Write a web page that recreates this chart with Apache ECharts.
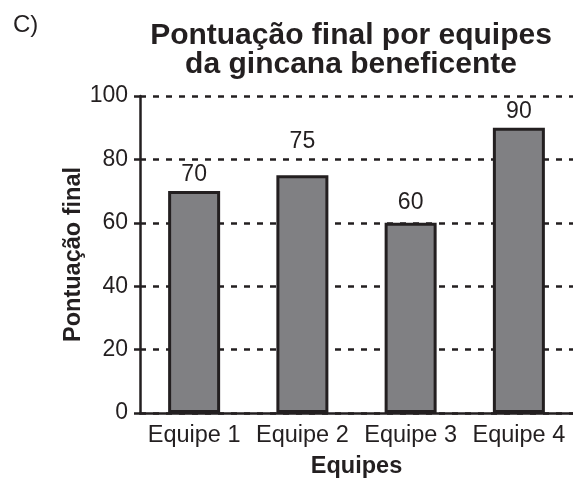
<!DOCTYPE html>
<html>
<head>
<meta charset="utf-8">
<script src="https://cdn.jsdelivr.net/npm/echarts@6/dist/echarts.min.js"></script>
<style>
html,body{margin:0;padding:0;background:#fff;}
#main{width:573px;height:484px;}
</style>
</head>
<body>
<div id="main"></div>
<script>
const categories = ['Equipe 1', 'Equipe 2', 'Equipe 3', 'Equipe 4'];
const scores = [70, 75, 60, 90];
const yTicks = [0, 20, 40, 60, 80, 100];
const titleText = 'Pontuação final por equipes\nda gincana beneficente';
const panelLabel = 'C)';
const yAxisTitle = 'Pontuação final';
const xAxisTitle = 'Equipes';

const FONT = '"Liberation Sans", Arial, Helvetica, sans-serif';
const INK = '#231f20';
const labelGaps = [5, 22, 9, 5];

const chart = echarts.init(document.getElementById('main'), null, {renderer: 'canvas'});
chart.setOption({
  backgroundColor: '#ffffff',
  animation: false,
  title: [
    {
      text: panelLabel, left: 8, top: 8,
      textStyle: {fontFamily: FONT, fontSize: 24, fontWeight: 'normal', color: INK}
    },
    {
      text: titleText, left: 346, top: 16, textAlign: 'center',
      textStyle: {fontFamily: FONT, fontSize: 30, fontWeight: 'bold', color: INK, lineHeight: 29}
    }
  ],
  grid: {left: 140, top: 96, width: 437, height: 317, containLabel: false},
  xAxis: {
    type: 'category',
    data: categories,
    name: xAxisTitle,
    nameLocation: 'middle',
    nameGap: 42,
    nameTextStyle: {fontFamily: FONT, fontSize: 23.5, fontWeight: 'bold', color: INK},
    axisLine: {show: true, lineStyle: {color: INK, width: 2.5}},
    axisTick: {show: false},
    axisLabel: {fontFamily: FONT, fontSize: 23.5, color: INK, margin: 11, interval: 0},
    splitLine: {show: false}
  },
  yAxis: {
    type: 'value',
    min: yTicks[0],
    max: yTicks[yTicks.length - 1],
    interval: yTicks[1] - yTicks[0],
    name: yAxisTitle,
    nameLocation: 'middle',
    nameGap: 54,
    nameMoveOverlap: false,
    nameTextStyle: {fontFamily: FONT, fontSize: 23.5, fontWeight: 'bold', color: INK},
    axisLine: {show: true, lineStyle: {color: INK, width: 2.5}},
    axisTick: {show: true, length: 6, lineStyle: {color: INK, width: 2.5}},
    axisLabel: {fontFamily: FONT, fontSize: 23, color: INK, margin: 12},
    splitLine: {show: true, lineStyle: {color: INK, width: 2.5, type: [6, 7]}}
  },
  series: [{
    type: 'bar',
    data: scores.map((v, i) => ({value: v, label: {distance: labelGaps[i]}})),
    barWidth: 52,
    itemStyle: {color: '#808083', borderColor: INK, borderWidth: 3},
    label: {
      show: true, position: 'top',
      fontFamily: FONT, fontSize: 23, color: INK
    }
  }]
});
</script>
</body>
</html>
